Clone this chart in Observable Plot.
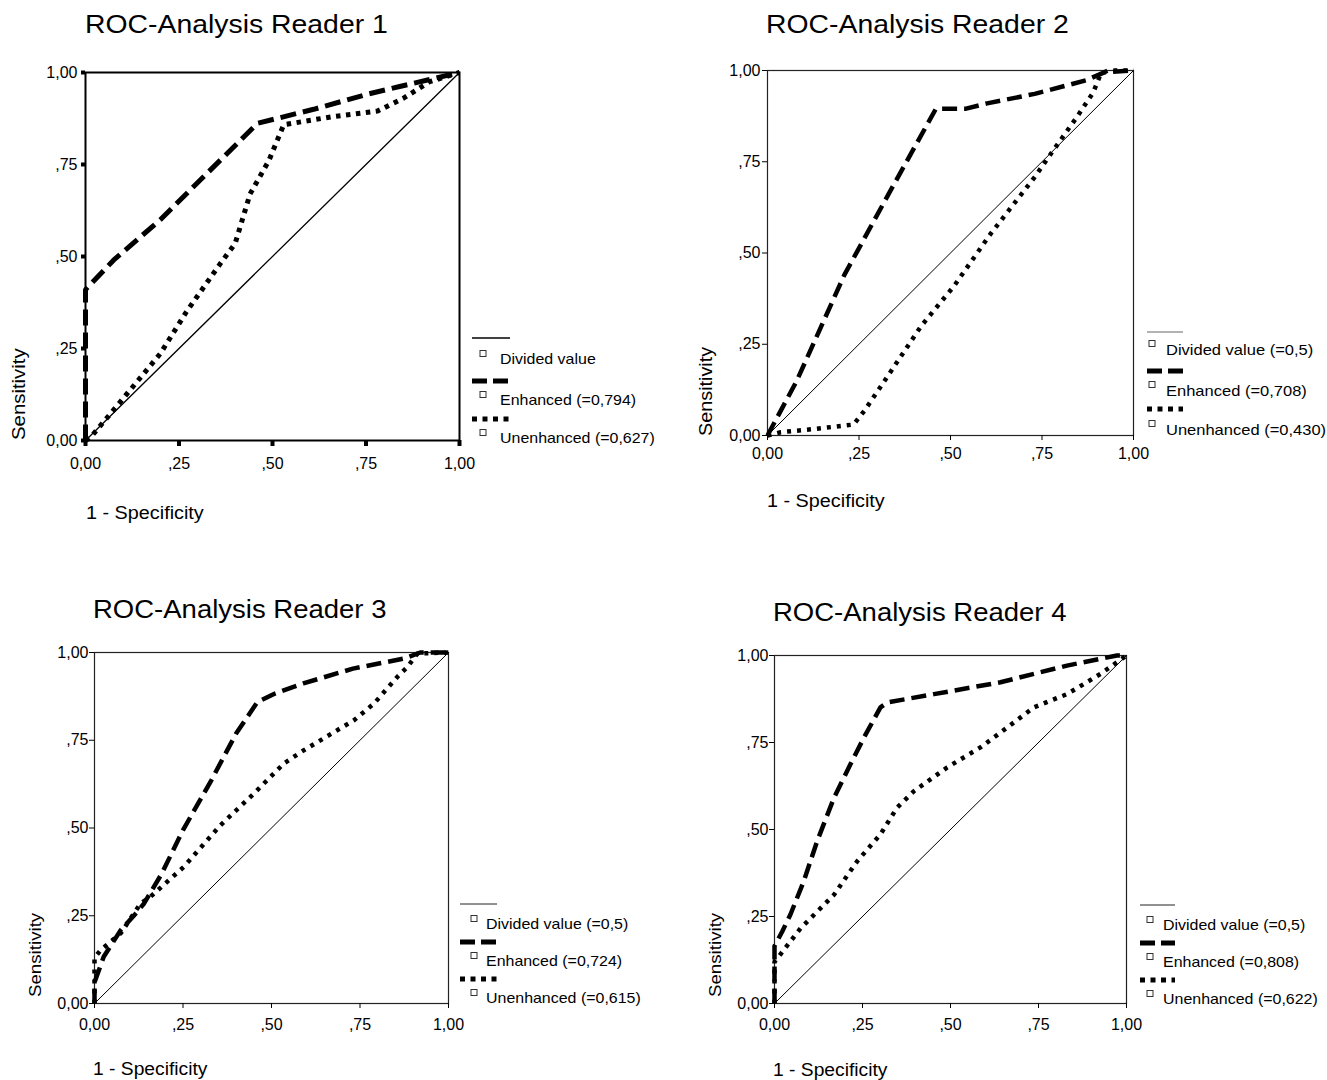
<!DOCTYPE html>
<html><head><meta charset="utf-8">
<script src="https://cdn.jsdelivr.net/npm/d3@7"></script>
<script src="https://cdn.jsdelivr.net/npm/@observablehq/plot@0.6"></script>
<style>
html,body{margin:0;padding:0;background:#fff}
body{width:1327px;height:1080px;position:relative;overflow:hidden;font-family:"Liberation Sans",Arial,sans-serif;color:#000}
.abs{position:absolute;white-space:nowrap;line-height:1;transform-origin:0 0}
.panel{position:absolute}
.panel svg{max-width:none !important;background:transparent !important}
</style></head><body>
<script>
// ---------- data ----------
const tickValues = [0, 0.25, 0.5, 0.75, 1];
const tickLabels = ["0,00", ",25", ",50", ",75", "1,00"];
const diagonal = [[0, 0], [1, 1]];

const titles = ["ROC-Analysis Reader 1", "ROC-Analysis Reader 2", "ROC-Analysis Reader 3", "ROC-Analysis Reader 4"];
const xAxisTitle = "1 - Specificity";
const yAxisTitle = "Sensitivity";
const legendR1 = ["Divided value", "Enhanced (=0,794)", "Unenhanced (=0,627)"];
const legendR2 = ["Divided value (=0,5)", "Enhanced (=0,708)", "Unenhanced (=0,430)"];
const legendR3 = ["Divided value (=0,5)", "Enhanced (=0,724)", "Unenhanced (=0,615)"];
const legendR4 = ["Divided value (=0,5)", "Enhanced (=0,808)", "Unenhanced (=0,622)"];

// [1 - specificity, sensitivity]
const r1Enhanced = [[0,0],[0,0.41],[0.075,0.49],[0.2,0.60],[0.46,0.862],[0.61,0.90],[0.75,0.94],[0.84,0.962],[1,1]];
const r1Unenhanced = [[0,0],[0.013,0.008],[0.067,0.073],[0.2,0.236],[0.27,0.35],[0.36,0.48],[0.40,0.535],[0.44,0.67],[0.49,0.76],[0.53,0.858],[0.66,0.88],[0.78,0.895],[0.85,0.93],[0.92,0.975],[1,1]];

const r2Enhanced = [[0,0],[0.08,0.15],[0.21,0.44],[0.33,0.66],[0.46,0.895],[0.54,0.895],[0.60,0.91],[0.73,0.936],[0.87,0.973],[0.92,0.995],[1,1]];
const r2Unenhanced = [[0,0],[0.036,0.009],[0.13,0.018],[0.235,0.03],[0.265,0.068],[0.32,0.15],[0.42,0.30],[0.51,0.41],[0.61,0.553],[0.73,0.708],[0.78,0.78],[0.845,0.872],[0.89,0.94],[0.91,0.99],[0.93,1],[1,1]];

const r3Enhanced = [[0,0],[0,0.06],[0.026,0.133],[0.074,0.209],[0.116,0.256],[0.14,0.285],[0.19,0.37],[0.25,0.494],[0.33,0.636],[0.40,0.769],[0.46,0.859],[0.51,0.883],[0.59,0.912],[0.73,0.954],[0.875,0.983],[0.92,1],[1,1]];
const r3Unenhanced = [[0,0],[0,0.13],[0.017,0.152],[0.074,0.20],[0.13,0.285],[0.158,0.304],[0.253,0.39],[0.356,0.508],[0.45,0.598],[0.535,0.684],[0.592,0.722],[0.733,0.807],[0.79,0.855],[0.856,0.931],[0.884,0.959],[0.912,0.997],[1,1]];

const r4Enhanced = [[0,0],[0,0.165],[0.022,0.207],[0.045,0.255],[0.083,0.351],[0.121,0.466],[0.169,0.591],[0.216,0.688],[0.254,0.764],[0.301,0.851],[0.32,0.865],[0.453,0.889],[0.642,0.923],[0.831,0.971],[0.973,1],[1,1]];
const r4Unenhanced = [[0,0],[0,0.12],[0.012,0.135],[0.074,0.216],[0.169,0.3125],[0.235,0.409],[0.301,0.486],[0.348,0.5625],[0.396,0.61],[0.49,0.678],[0.585,0.736],[0.623,0.764],[0.737,0.851],[0.831,0.889],[0.926,0.947],[1,1]];

// ---------- layout (positions & styles) ----------
const layouts = [
  {x0:85, x1:459, y1:72, y0:440, titleX:85, titleBase:34, titleSize:25.8,
   xtX:86, xtBase:519, xtSize:18, ytLeft:9.5, ytBottom:440, ytSize:18.5,
   frameColor:"#000", frameWidth:2, diagWidth:1.3, tickSize:6, tickWidth:4, xPad:11, yPad:2,
   curveWidth:5, dash:"16,7", dot:"4.5,5.5",
   lgLine:[472,510], lgSquare:483, lgText:500, lgRows:[338,359,381,400,419,438], lgSize:14.5, lgLineColor:"#000", lgLineWidth:1.5},
  {x0:767, x1:1133, y1:70, y0:435, titleX:766, titleBase:34, titleSize:25.8,
   xtX:767, xtBase:507, xtSize:18, ytLeft:696.5, ytBottom:436, ytSize:18,
   frameColor:"#222", frameWidth:1.2, diagWidth:1, tickSize:5, tickWidth:1, xPad:7, yPad:2,
   curveWidth:4.5, dash:"15,7", dot:"4,6",
   lgLine:[1147,1183], lgSquare:1152, lgText:1166, lgRows:[332,349,371,390,409,429], lgSize:15, lgLineColor:"#666", lgLineWidth:1},
  {x0:94, x1:448, y1:652, y0:1003, titleX:93, titleBase:618, titleSize:25,
   xtX:93, xtBase:1076, xtSize:17.5, ytLeft:27, ytBottom:997, ytSize:17,
   frameColor:"#222", frameWidth:1.2, diagWidth:1, tickSize:5, tickWidth:1, xPad:10, yPad:1,
   curveWidth:4.5, dash:"15,7", dot:"4,6",
   lgLine:[460,497], lgSquare:474, lgText:486, lgRows:[904,924,942,961,979,998], lgSize:14.5, lgLineColor:"#222", lgLineWidth:1},
  {x0:774, x1:1126, y1:655, y0:1003, titleX:773, titleBase:621, titleSize:25,
   xtX:773, xtBase:1077, xtSize:17.5, ytLeft:707, ytBottom:997, ytSize:17,
   frameColor:"#222", frameWidth:1.2, diagWidth:1, tickSize:5, tickWidth:1, xPad:10, yPad:1,
   curveWidth:4.5, dash:"15,7", dot:"4,6",
   lgLine:[1140,1175], lgSquare:1150, lgText:1163, lgRows:[905,925,943,962,980,999], lgSize:14.5, lgLineColor:"#222", lgLineWidth:1}
];

const series = [[r1Enhanced, r1Unenhanced], [r2Enhanced, r2Unenhanced], [r3Enhanced, r3Unenhanced], [r4Enhanced, r4Unenhanced]];
const legends = [legendR1, legendR2, legendR3, legendR4];

const SX = 1.1; // horizontal stretch of the original typeface
const fmt = d => tickLabels[tickValues.indexOf(d)];

function addText(txt, left, top, size, rotate) {
  const d = document.createElement("div");
  d.className = "abs";
  d.textContent = txt;
  d.style.left = left + "px";
  d.style.top = top + "px";
  d.style.fontSize = size + "px";
  d.style.transform = rotate ? `rotate(-90deg) scaleX(${SX})` : `scaleX(${SX})`;
  document.body.appendChild(d);
}

// overlay for legend samples
const overlay = d3.select(document.body).append("svg")
  .attr("width", 1327).attr("height", 1080)
  .style("position", "absolute").style("left", "0px").style("top", "0px").style("pointer-events", "none");

layouts.forEach((L, i) => {
  const [enh, unen] = series[i];
  const ml = 60, mr = 20, mt = 15, mb = 40;
  const W = L.x1 - L.x0, H = L.y0 - L.y1;
  const xy = {x: d => d[0], y: d => d[1]};
  const chart = Plot.plot({
    width: W + ml + mr, height: H + mt + mb,
    marginLeft: ml, marginRight: mr, marginTop: mt, marginBottom: mb,
    style: {fontFamily: '"Liberation Sans", Arial, sans-serif', fontSize: "16px", color: "#000", background: "transparent", overflow: "visible"},
    x: {domain: [0, 1]},
    y: {domain: [0, 1]},
    marks: [
      Plot.frame({stroke: L.frameColor, strokeWidth: L.frameWidth}),
      Plot.line(diagonal, {...xy, stroke: "#000", strokeWidth: L.diagWidth}),
      Plot.line(unen, {...xy, stroke: "#000", strokeWidth: L.curveWidth, strokeDasharray: L.dot, strokeLinecap: "butt", strokeLinejoin: "miter"}),
      Plot.line(enh, {...xy, stroke: "#000", strokeWidth: L.curveWidth, strokeDasharray: L.dash, strokeLinecap: "butt", strokeLinejoin: "miter"}),
      Plot.axisX({ticks: tickValues, tickFormat: fmt, tickSize: L.tickSize, tickPadding: L.xPad, strokeWidth: L.tickWidth, label: null}),
      Plot.axisY({ticks: tickValues, tickFormat: fmt, tickSize: L.tickSize - (L.tickWidth > 2 ? 2 : 0), tickPadding: L.yPad + (L.tickWidth > 2 ? 2 : 0), strokeWidth: L.tickWidth, label: null})
    ]
  });
  const holder = document.createElement("div");
  holder.className = "panel";
  holder.style.left = (L.x0 - ml) + "px";
  holder.style.top = (L.y1 - mt) + "px";
  holder.style.width = (W + ml + mr) + "px";
  holder.appendChild(chart);
  document.body.appendChild(holder);

  // titles and axis titles
  addText(titles[i], L.titleX, L.titleBase - 0.8465 * L.titleSize, L.titleSize, false);
  addText(xAxisTitle, L.xtX, L.xtBase - 0.8465 * L.xtSize, L.xtSize, false);
  addText(yAxisTitle, L.ytLeft, L.ytBottom, L.ytSize, true);

  // legend
  const [la, lb] = L.lgLine;
  const rows = L.lgRows;
  const g = overlay.append("g");
  g.append("line").attr("x1", la).attr("x2", lb).attr("y1", rows[0]).attr("y2", rows[0])
    .attr("stroke", L.lgLineColor).attr("stroke-width", L.lgLineWidth);
  g.append("line").attr("x1", la).attr("x2", lb).attr("y1", rows[2]).attr("y2", rows[2])
    .attr("stroke", "#000").attr("stroke-width", 5).attr("stroke-dasharray", "15,6");
  g.append("line").attr("x1", la).attr("x2", lb).attr("y1", rows[4]).attr("y2", rows[4])
    .attr("stroke", "#000").attr("stroke-width", 5).attr("stroke-dasharray", "5,5.5");
  [rows[1], rows[3], rows[5]].forEach((cy, k) => {
    g.append("rect").attr("x", L.lgSquare - 3).attr("y", cy - 8.5).attr("width", 6).attr("height", 6)
      .attr("fill", "#fff").attr("stroke", "#333").attr("stroke-width", 1);
    addText(legends[i][k], L.lgText, cy - 0.488 * L.lgSize, L.lgSize, false);
  });
});
</script>
</body></html>
